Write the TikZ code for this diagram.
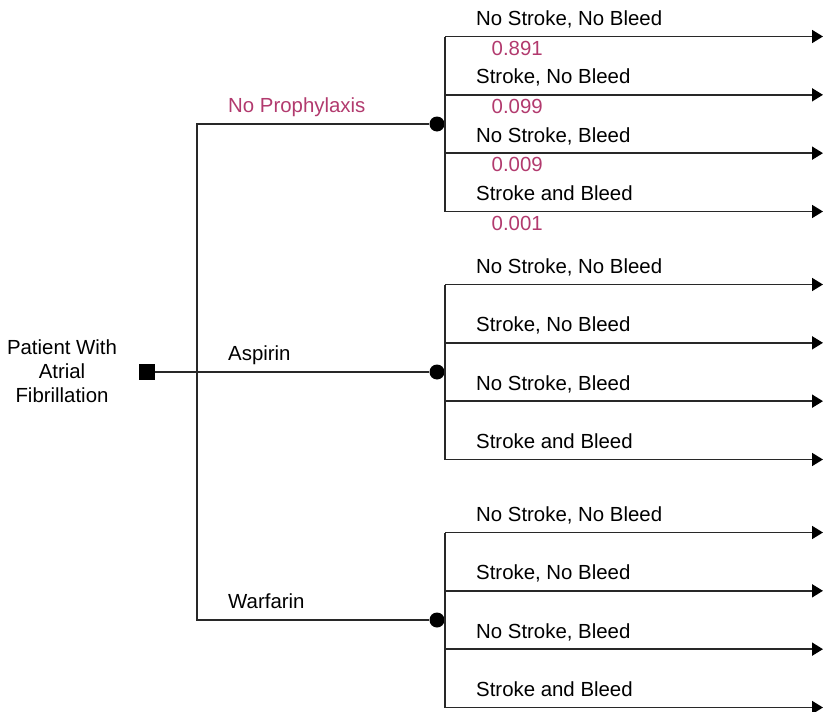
\documentclass[tikz,border=0pt]{standalone}
\usepackage{fontspec}
\setmainfont{Liberation Sans}
\usetikzlibrary{arrows.meta}
\definecolor{prob}{RGB}{178,58,110}
\definecolor{ln}{RGB}{40,40,40}
\tikzset{
  edge/.style={draw=ln, line width=1.8pt},
  arr/.style={edge, -{Triangle[length=11pt,width=13pt,color=black]}},
  chance/.style={circle, fill=black, inner sep=0pt, minimum size=15pt},
  decision/.style={rectangle, fill=black, inner sep=0pt, minimum size=15.5pt},
  lbl/.style={anchor=base west, inner sep=0pt, font=\fontsize{20.4pt}{24pt}\selectfont},
  plbl/.style={lbl, text=prob},
}
\begin{document}
\begin{tikzpicture}[x=1pt,y=-1pt]
\useasboundingbox (0,0) rectangle (823,712);
% root
\node[decision] (root) at (147,372) {};
\node[align=center, inner sep=0pt, font=\fontsize{20.4pt}{24.3pt}\selectfont, anchor=base] (rootlbl) at (62,402.7) {Patient With\\Atrial\\Fibrillation};
% chance nodes
\node[chance] (c1) at (437,124) {};
\node[chance] (c2) at (437,372) {};
\node[chance] (c3) at (437,620) {};
\coordinate (j1) at (197,124);
\coordinate (j3) at (197,620);
\draw[edge] (root) -- (c2);
\draw[edge] (c1) -- (j1) -- (j3) -- (c3);
\node[plbl] (t1) at (228,112.7) {No Prophylaxis};
\node[lbl] (t2) at (228,360.7) {Aspirin};
\node[lbl] (t3) at (228,608.7) {Warfarin};
% branches
\foreach \g/\cy in {1/124,2/372,3/620}{
  \coordinate (b\g) at (445,\cy);
  \coordinate (top\g) at (445,\cy-87.5);
  \coordinate (bot\g) at (445,\cy+87.5);
  \draw[edge] (c\g) -- (b\g);
  \draw[edge] (top\g) -- (bot\g);
  \foreach \k/\txt in {0/{No Stroke, No Bleed},1/{Stroke, No Bleed},2/{No Stroke, Bleed},3/{Stroke and Bleed}}{
    \coordinate (s\g\k) at (445,\cy-87.5+58.33*\k);
    \coordinate (e\g\k) at (823,\cy-87.5+58.33*\k);
    \draw[arr] (s\g\k) -- (e\g\k);
    \node[lbl] (l\g\k) at (476,\cy-87.5+58.33*\k-11) {\txt};
  }
}
% probabilities
\node[plbl] (p0) at (491.5,55.2) {0.891};
\node[plbl] (p1) at (491.5,113.5) {0.099};
\node[plbl] (p2) at (491.5,171.8) {0.009};
\node[plbl] (p3) at (491.5,230.2) {0.001};
\end{tikzpicture}
\end{document}
